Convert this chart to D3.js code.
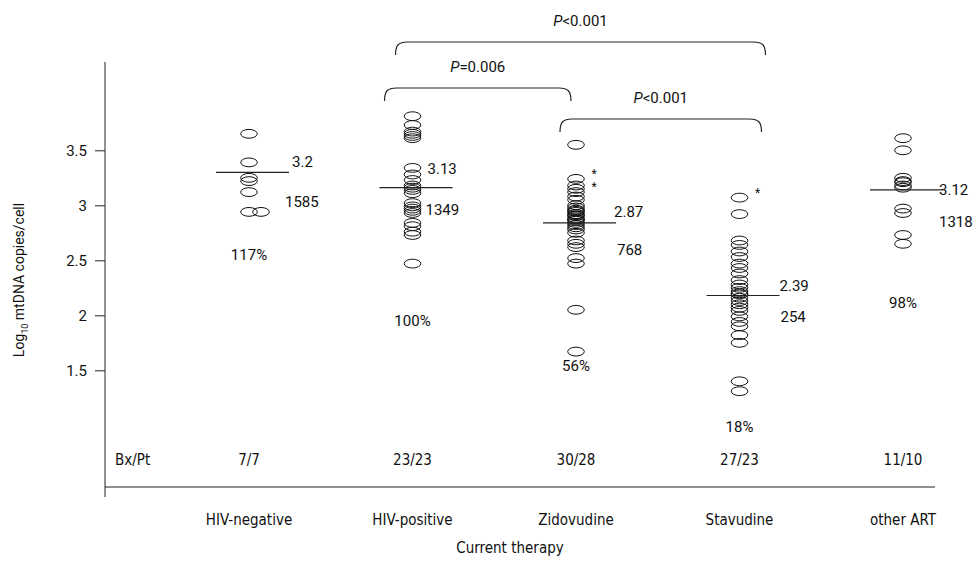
<!DOCTYPE html>
<html>
<head>
<meta charset="utf-8">
<script src="https://cdn.jsdelivr.net/npm/d3@7"></script>
<style>
  body { margin: 0; background: #fff; }
  svg { display: block; }
  text { fill: #111; }
  .num { font-family: Roboto, "Liberation Sans", sans-serif; font-size: 15px; }
  .cond { font-family: "Liberation Sans Narrow", "DejaVu Sans Condensed", sans-serif; font-size: 15px; }
</style>
</head>
<body>
<svg id="chart" width="974" height="571"></svg>
<script>
// ---- data ----
var groups = ["HIV-negative", "HIV-positive", "Zidovudine", "Stavudine", "other ART"];
var bxPt = ["7/7", "23/23", "30/28", "27/23", "11/10"];

var hivNegative = [3.65, 3.39, 3.25, 3.22, 3.12, 2.94, 2.94];
var hivPositive = [3.81, 3.73, 3.67, 3.65, 3.63, 3.61, 3.34, 3.28, 3.23, 3.18, 3.16,
  3.14, 3.11, 3.02, 2.99, 2.97, 2.95, 2.93, 2.84, 2.81, 2.76, 2.73, 2.47];
var zidovudine = [3.55, 3.24, 3.18, 3.15, 3.12, 3.08, 3.05, 3.00, 2.98, 2.96, 2.95,
  2.94, 2.92, 2.91, 2.90, 2.88, 2.87, 2.86, 2.84, 2.82, 2.80, 2.78, 2.75, 2.68,
  2.65, 2.62, 2.52, 2.47, 2.05, 1.67];
var stavudine = [3.07, 2.92, 2.68, 2.64, 2.58, 2.53, 2.47, 2.43, 2.38, 2.32, 2.28,
  2.25, 2.22, 2.20, 2.19, 2.16, 2.13, 2.10, 2.07, 2.04, 1.99, 1.94, 1.90, 1.82,
  1.75, 1.40, 1.31];
var otherArt = [3.61, 3.50, 3.25, 3.22, 3.21, 3.18, 3.16, 2.97, 2.93, 2.73, 2.65];

// horizontal bar drawn per group, and its printed labels
var barValues = [3.30, 3.16, 2.84, 2.18, 3.14];
var meanLabels = ["3.2", "3.13", "2.87", "2.39", "3.12"];
var copyLabels = ["1585", "1349", "768", "254", "1318"];
var pctLabels = ["117%", "100%", "56%", "18%", "98%"];

// points marked with an asterisk
var starred = [[], [], [3.24, 3.12], [3.07], []];

var yTicks = [1.5, 2, 2.5, 3, 3.5];

var comparisons = [
  { a: "HIV-positive", b: "Stavudine", p: "<0.001" },
  { a: "HIV-positive", b: "Zidovudine", p: "=0.006" },
  { a: "Zidovudine", b: "Stavudine", p: "<0.001" }
];

var series = [hivNegative, hivPositive, zidovudine, stavudine, otherArt];

// ---- layout ----
var svg = d3.select("#chart");
var axisX = 105, axisTop = 62, baseY = 487, axisBottom = 497, rightEnd = 935;

var x = d3.scalePoint().domain(groups).range([249, 903]);
var y = d3.scaleLinear().domain([1.5, 3.5]).range([370.3, 150.3]);

// label offsets relative to group centre / bar: [dxMean, dyMean, dxCopies, dyCopies]
var labelOffsets = [[43, -11, 36, 29], [15, -19, 13, 22], [38, -11, 41, 27],
  [40, -10, 41, 21], [36, 0, 36, 32]];
var pctY = [255, 321, 366, 427, 303];
var bracketTop = [42, 88, 119];
var bracketPad = [[-17, 26], [-28, -5], [-16, 22]];

// y axis
var yAxis = d3.axisLeft(y).tickValues(yTicks).tickSize(10).tickPadding(8)
  .tickFormat(d3.format(""));
var gy = svg.append("g").attr("transform", "translate(" + axisX + ",0)").call(yAxis);
gy.select(".domain").remove();
gy.selectAll("line").attr("stroke", "#222");
gy.selectAll("text").attr("class", "num").attr("fill", "#111")
  .style("font-size", "15px");

svg.append("line").attr("x1", axisX).attr("x2", axisX)
  .attr("y1", axisTop).attr("y2", axisBottom).attr("stroke", "#222");
svg.append("line").attr("x1", axisX).attr("x2", rightEnd)
  .attr("y1", baseY).attr("y2", baseY).attr("stroke", "#222");

var yl = svg.append("text").attr("class", "num")
  .attr("transform", "translate(24,280) rotate(-90)")
  .attr("text-anchor", "middle").style("font-size", "14px");
yl.append("tspan").text("Log");
yl.append("tspan").attr("dy", 4).style("font-size", "9px").text("10");
yl.append("tspan").attr("dy", -4).text(" mtDNA copies/cell");

// points
series.forEach(function(vals, gi) {
  var cx = x(groups[gi]);
  var seen = {};
  var g = svg.append("g");
  vals.forEach(function(v) {
    var k = seen[v] || 0;
    seen[v] = k + 1;
    g.append("ellipse")
      .attr("cx", cx + k * 12).attr("cy", y(v))
      .attr("rx", 8.3).attr("ry", 4.4)
      .attr("fill", "none").attr("stroke", "#111").attr("stroke-width", 1);
  });
  starred[gi].forEach(function(v) {
    svg.append("text").attr("class", "num")
      .attr("x", cx + 18).attr("y", y(v) - 1)
      .attr("text-anchor", "middle").style("font-size", "12px").text("*");
  });

  var by = y(barValues[gi]);
  svg.append("line").attr("x1", cx - 33).attr("x2", cx + 40)
    .attr("y1", by).attr("y2", by).attr("stroke", "#222").attr("stroke-width", 1.2);

  var o = labelOffsets[gi];
  svg.append("text").attr("class", "num").attr("x", cx + o[0]).attr("y", by + o[1])
    .attr("dy", "0.35em").text(meanLabels[gi]);
  svg.append("text").attr("class", "num").attr("x", cx + o[2]).attr("y", by + o[3])
    .attr("dy", "0.35em").text(copyLabels[gi]);
  svg.append("text").attr("class", "num").attr("x", cx).attr("y", pctY[gi])
    .attr("dy", "0.35em").attr("text-anchor", "middle").text(pctLabels[gi]);

  svg.append("text").attr("class", "cond").attr("x", cx).attr("y", 460)
    .attr("dy", "0.35em").attr("text-anchor", "middle").text(bxPt[gi]);
  svg.append("text").attr("class", "cond").attr("x", cx).attr("y", 520)
    .attr("dy", "0.35em").attr("text-anchor", "middle").text(groups[gi]);
});

svg.append("text").attr("class", "cond").attr("x", 115).attr("y", 460)
  .attr("dy", "0.35em").text("Bx/Pt");
svg.append("text").attr("class", "cond").attr("x", 510).attr("y", 548)
  .attr("dy", "0.35em").attr("text-anchor", "middle").text("Current therapy");

// significance brackets
function bracketPath(l, r, t, h) {
  var rr = 12;
  return "M" + l + "," + (t + h) +
    " C" + l + "," + (t + 3) + " " + (l + 3) + "," + t + " " + (l + rr) + "," + t +
    " L" + (r - rr) + "," + t +
    " C" + (r - 3) + "," + t + " " + r + "," + (t + 3) + " " + r + "," + (t + h);
}

comparisons.forEach(function(c, i) {
  var l = x(c.a) + bracketPad[i][0];
  var r = x(c.b) + bracketPad[i][1];
  var t = bracketTop[i];
  svg.append("path").attr("d", bracketPath(l, r, t, 13))
    .attr("fill", "none").attr("stroke", "#222").attr("stroke-width", 1.2);
  var lab = svg.append("text").attr("class", "num")
    .attr("x", (l + r) / 2).attr("y", t - 21).attr("dy", "0.35em")
    .attr("text-anchor", "middle");
  lab.append("tspan").style("font-style", "italic").text("P");
  lab.append("tspan").text(c.p);
});
</script>
</body>
</html>
